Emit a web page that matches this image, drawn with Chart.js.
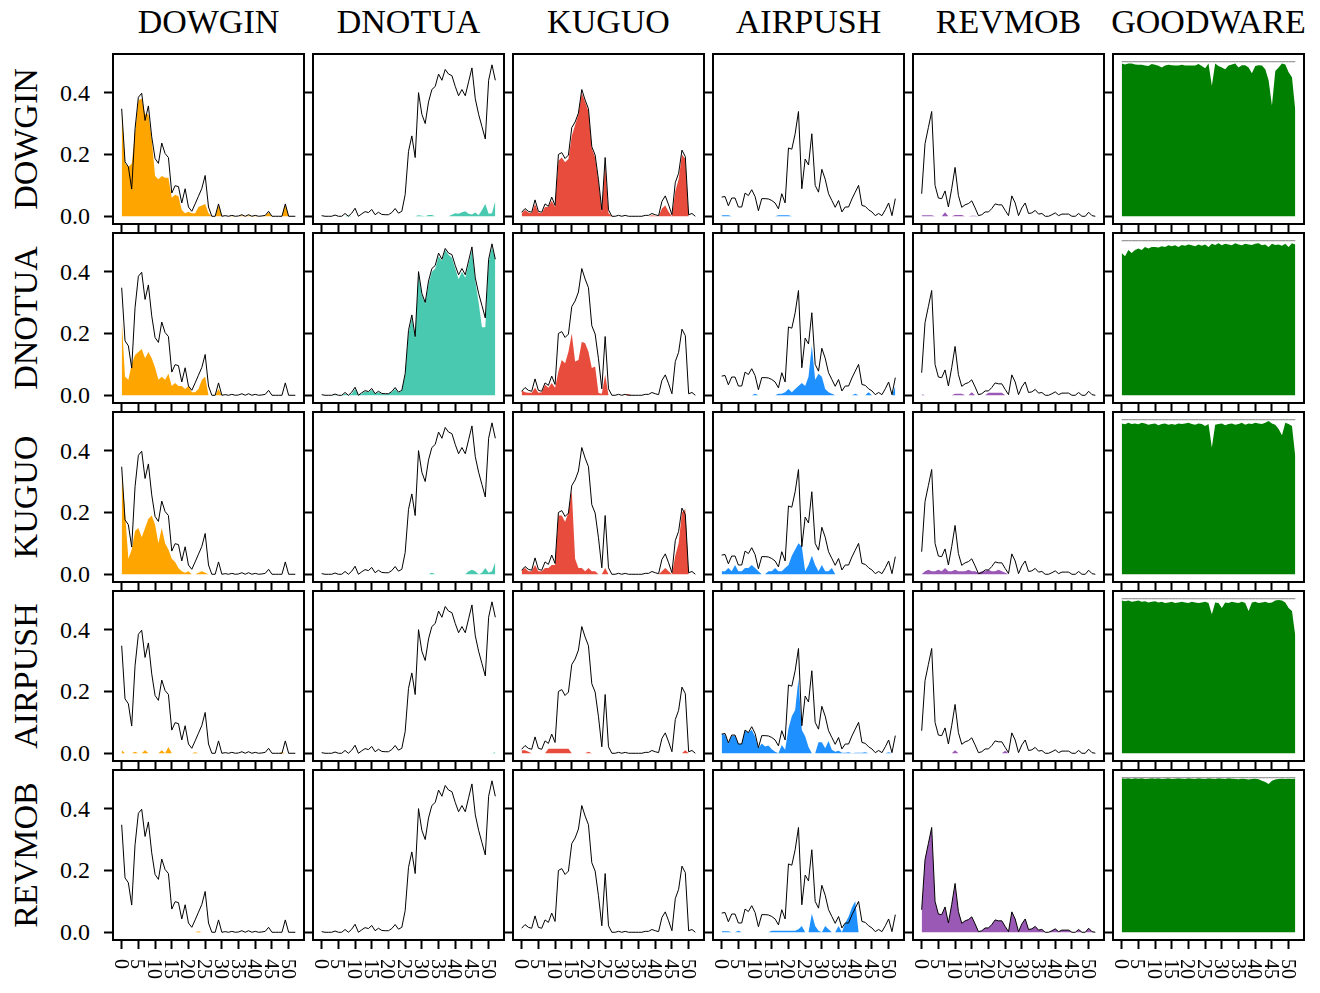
<!DOCTYPE html>
<html>
<head>
<meta charset="utf-8">
<script src="https://cdn.jsdelivr.net/npm/chart.js@4.4.0/dist/chart.umd.min.js"></script>
<style>
  body { margin: 0; background: #fff; }
  #fig { position: relative; width: 1320px; height: 993px; overflow: hidden;
         font-family: "Liberation Serif", "DejaVu Serif", serif; color: #000; }
  .cell { position: absolute; }
  .cell canvas { display: block; }
  .title { position: absolute; top: 5px; width: 220px; text-align: center; font-size: 34px; line-height: 34px; white-space: nowrap; }
  .rowlab { position: absolute; width: 220px; text-align: center; font-size: 34px; line-height: 34px;
            white-space: nowrap; transform: translate(-50%, -50%) rotate(-90deg); }
  .ytl { position: absolute; width: 60px; text-align: right; font-size: 24px; line-height: 24px; transform: translateY(-50%); }
  .xtl { position: absolute; top: 959px; writing-mode: vertical-rl; font-size: 20px; line-height: 20px; transform: translateX(-50%); }
</style>
</head>
<body>
<div id="fig"></div>
<script>
/* ---- categories / axes ---- */
const COLUMNS = ["DOWGIN", "DNOTUA", "KUGUO", "AIRPUSH", "REVMOB", "GOODWARE"];
const ROWS = ["DOWGIN", "DNOTUA", "KUGUO", "AIRPUSH", "REVMOB"];
const X = [0,1,2,3,4,5,6,7,8,9,10,11,12,13,14,15,16,17,18,19,20,21,22,23,24,25,26,27,28,29,
           30,31,32,33,34,35,36,37,38,39,40,41,42,43,44,45,46,47,48,49,50,51,52];
const X_TICKS = [0, 5, 10, 15, 20, 25, 30, 35, 40, 45, 50];
const Y_TICKS = [0, 0.2, 0.4];
const Y_TICK_LABELS = ["0.0", "0.2", "0.4"];

/* ---- reference profiles (black lines, one per column) ---- */
const REF_DOWGIN = [0.348,0.176,0.160,0.088,0.283,0.385,0.398,0.310,0.357,0.257,
  0.187,0.171,0.237,0.203,0.190,0.075,0.099,0.096,0.043,0.089,
  0.030,0.016,0.040,0.065,0.090,0.132,0.030,0,0,0.040,
  0,0.002,0,0.003,0,0.001,0.005,0,0.005,0,
  0.003,0,0.001,0.003,0.016,0,0,0,0,0.040,
  0,0,0];
const REF_DNOTUA = [0.002,0,0,0,0.004,0,0,0.009,0,0.010,
  0.026,0,0.008,0.015,0.012,0.022,0.005,0.013,0.006,0.005,
  0.005,0.012,0.025,0.010,0.016,0.070,0.210,0.260,0.190,0.400,
  0.330,0.300,0.370,0.410,0.420,0.460,0.440,0.475,0.460,0.455,
  0.420,0.390,0.410,0.390,0.435,0.480,0.380,0.330,0.290,0.250,
  0.440,0.490,0.440];
const REF_KUGUO = [0.013,0.025,0.016,0.013,0.053,0.016,0.013,0.040,0.032,0.062,
  0.035,0.200,0.206,0.187,0.198,0.287,0.305,0.334,0.410,0.376,
  0.348,0.225,0.198,0.118,0.021,0.190,0.021,0,0,0.003,
  0,0.003,0,0,0,0,0,0.003,0.003,0.009,
  0.005,0.002,0.048,0.066,0.037,0.005,0.109,0.139,0.214,0.193,
  0.005,0.009,0];
const REF_AIRPUSH = [0.062,0.064,0.034,0.059,0.059,0.030,0.030,0.075,0.067,0.086,
  0.064,0.018,0.057,0.057,0.056,0.051,0.043,0.024,0.073,0.043,
  0.221,0.217,0.267,0.339,0.089,0.185,0.166,0.267,0.100,0.078,
  0.152,0.120,0.073,0.051,0.029,0.051,0.014,0.030,0.030,0.056,
  0.078,0.100,0.035,0.032,0.021,0.014,0.002,0.009,0.002,0.021,
  0.043,0.002,0.057];
const REF_REVMOB = [0.073,0.235,0.287,0.339,0.100,0.059,0.057,0.082,0.030,0.090,
  0.158,0.067,0.029,0.037,0.041,0.050,0.027,0.002,0.005,0.014,
  0.014,0.025,0.040,0.037,0.037,0.019,0.002,0.066,0.043,0.002,
  0.027,0.043,0.009,0.011,0.019,0.007,0.009,0,0,0.005,
  0.011,0.002,0.007,0.007,0.007,0,0,0.009,0,0,
  0.013,0.002,0];
const REF_GOODWARE = [0.5,0.5,0.5,0.5,0.5,0.5,0.5,0.5,0.5,0.5,
  0.5,0.5,0.5,0.5,0.5,0.5,0.5,0.5,0.5,0.5,
  0.5,0.5,0.5,0.5,0.5,0.5,0.5,0.5,0.5,0.5,
  0.5,0.5,0.5,0.5,0.5,0.5,0.5,0.5,0.5,0.5,
  0.5,0.5,0.5,0.5,0.5,0.5,0.5,0.5,0.5,0.5,
  0.5,0.5,0.5];

/* ---- filled series: row family scored against column family ---- */
// row DOWGIN
const DOWGIN_DOWGIN = [0.348,0.170,0.160,0.170,0.270,0.375,0.380,0.330,0.330,0.250,
  0.130,0.120,0.130,0.125,0.125,0.060,0.070,0.065,0.020,0.010,
  0.015,0.010,0.010,0.030,0.035,0.040,0.010,0,0,0.035,
  0,0,0,0.002,0,0,0.003,0,0.003,0,
  0.002,0,0,0.002,0.012,0,0,0,0,0.040,
  0,0,0];
const DOWGIN_DNOTUA = [0,0,0,0,0,0,0,0,0.003,0,
  0,0,0,0,0,0,0,0,0,0,
  0,0,0,0,0,0,0,0,0,0.003,
  0.002,0,0.004,0.004,0,0,0,0,0,0.005,
  0.010,0.008,0.013,0.016,0.008,0.006,0.012,0.003,0.020,0.040,
  0.008,0.010,0.050];
const DOWGIN_KUGUO = [0.010,0.020,0.012,0.010,0.040,0.012,0.010,0.030,0.030,0.050,
  0.030,0.180,0.190,0.175,0.185,0.260,0.295,0.330,0.400,0.370,
  0.340,0.220,0.190,0.110,0.015,0.170,0.010,0,0,0,
  0,0,0,0,0,0,0,0,0,0.003,
  0.002,0,0.025,0.035,0.015,0,0.080,0.120,0.200,0.185,
  0,0,0];
const DOWGIN_AIRPUSH = [0.003,0.003,0.003,0,0,0,0,0,0,0,
  0,0,0,0,0,0,0,0.003,0.003,0.003,
  0.003,0,0,0,0,0,0,0,0,0,
  0,0,0,0,0,0,0,0,0,0,
  0,0,0,0,0,0,0,0,0,0,
  0,0,0];
const DOWGIN_REVMOB = [0.003,0.003,0.003,0.003,0,0,0,0.013,0,0,
  0.004,0.004,0.004,0,0,0.002,0.002,0,0,0,
  0,0,0,0,0,0,0,0,0,0,
  0,0,0,0,0,0,0,0,0,0,
  0,0,0,0,0,0,0,0,0,0,
  0,0,0];
const DOWGIN_GOODWARE = [0.494,0.491,0.494,0.494,0.491,0.490,0.490,0.488,0.486,0.493,
  0.490,0.487,0.481,0.488,0.490,0.489,0.488,0.488,0.490,0.488,
  0.488,0.488,0.488,0.493,0.486,0.479,0.494,0.422,0.494,0.486,
  0.481,0.476,0.488,0.491,0.494,0.481,0.489,0.489,0.481,0.463,
  0.486,0.489,0.488,0.476,0.440,0.358,0.470,0.481,0.494,0.491,
  0.466,0.450,0.342];
// row DNOTUA
const DNOTUA_DOWGIN = [0.250,0.060,0.050,0.100,0.130,0.140,0.150,0.120,0.140,0.120,
  0.090,0.050,0.060,0.050,0.070,0.030,0.040,0.030,0.030,0.020,
  0.030,0.010,0.010,0.020,0.050,0.060,0,0,0,0.020,
  0,0,0,0,0,0,0,0,0,0,
  0,0,0,0,0,0,0,0,0,0,
  0,0,0];
const DNOTUA_DNOTUA = [0,0,0,0,0.002,0,0,0.005,0,0.005,
  0.020,0,0.005,0.012,0.010,0.018,0.004,0.010,0.004,0.003,
  0.004,0.010,0.020,0.008,0.014,0.065,0.200,0.250,0.185,0.390,
  0.325,0.295,0.360,0.400,0.410,0.450,0.435,0.470,0.455,0.445,
  0.410,0.375,0.400,0.380,0.425,0.470,0.370,0.300,0.220,0.220,
  0.430,0.480,0.440];
const DNOTUA_KUGUO = [0.016,0.010,0.008,0.008,0.024,0.008,0.010,0.034,0.024,0.040,
  0.024,0.077,0.114,0.104,0.141,0.200,0.109,0.114,0.173,0.168,
  0.141,0.088,0.093,0.007,0.005,0.066,0,0,0,0,
  0,0,0.004,0,0,0,0,0,0,0,
  0,0,0,0,0,0,0,0,0,0,
  0,0,0];
const DNOTUA_AIRPUSH = [0,0,0,0,0,0,0,0,0,0,
  0.005,0,0,0,0,0,0,0.005,0.005,0.010,
  0.020,0.010,0.020,0.030,0.040,0.030,0.060,0.160,0.050,0.070,
  0.060,0.020,0.010,0.005,0,0,0,0,0,0,
  0.005,0,0,0,0.010,0,0,0,0,0,
  0,0,0.030];
const DNOTUA_REVMOB = [0.003,0,0,0,0,0,0,0,0,0,
  0.005,0.005,0.005,0,0,0.010,0,0,0,0,
  0.008,0.008,0.008,0.008,0.008,0,0,0,0,0,
  0,0,0,0,0,0,0,0,0,0,
  0,0,0,0,0,0,0,0,0,0,
  0,0,0];
const DNOTUA_GOODWARE = [0.460,0.450,0.470,0.460,0.470,0.475,0.470,0.480,0.475,0.480,
  0.480,0.478,0.482,0.480,0.485,0.482,0.485,0.480,0.486,0.484,
  0.488,0.485,0.482,0.488,0.484,0.488,0.480,0.490,0.486,0.492,
  0.485,0.490,0.488,0.485,0.492,0.488,0.485,0.490,0.488,0.486,
  0.490,0.492,0.485,0.488,0.480,0.490,0.486,0.488,0.484,0.490,
  0.480,0.492,0.488];
// row KUGUO
const KUGUO_DOWGIN = [0.330,0.200,0.050,0.080,0.140,0.150,0.120,0.150,0.180,0.190,
  0.160,0.100,0.150,0.100,0.080,0.050,0.040,0.020,0.010,0.005,
  0.010,0,0,0.005,0.010,0.005,0,0,0,0,
  0,0,0,0,0,0,0,0,0,0,
  0,0,0,0,0,0,0,0,0,0,
  0,0,0];
const KUGUO_DNOTUA = [0,0,0,0,0,0,0,0,0,0,
  0,0,0,0,0,0,0,0,0,0,
  0,0,0,0,0,0,0,0,0,0,
  0,0,0,0.005,0,0,0,0,0,0,
  0,0,0,0,0.010,0.015,0.010,0,0.005,0.020,
  0.005,0.010,0.040];
const KUGUO_KUGUO = [0.013,0.020,0.010,0.010,0.030,0.010,0.010,0.020,0.020,0.030,
  0.030,0.190,0.190,0.170,0.200,0.270,0.050,0.020,0.020,0.010,
  0.020,0.010,0.010,0,0,0.020,0,0,0,0,
  0,0,0,0,0,0,0,0,0,0,
  0,0,0.010,0.020,0.010,0,0.060,0.100,0.200,0.210,
  0,0,0];
const KUGUO_AIRPUSH = [0.010,0.010,0.020,0.010,0.030,0.010,0.010,0.020,0.020,0.030,
  0.020,0.010,0,0,0.010,0.010,0.020,0.010,0.010,0.020,
  0.030,0.060,0.080,0.100,0.090,0.010,0.030,0.060,0.030,0.010,
  0.030,0.010,0.010,0.020,0,0,0,0,0,0,
  0,0,0,0,0,0,0,0,0,0,
  0,0,0];
const KUGUO_REVMOB = [0,0.010,0.015,0.010,0.010,0.015,0.010,0.020,0.010,0.010,
  0.015,0.010,0.010,0.010,0.015,0.010,0.010,0.005,0.010,0.010,
  0.015,0.010,0.010,0.015,0.010,0.005,0,0,0,0,
  0,0,0,0,0,0,0,0,0,0,
  0,0,0,0,0,0,0,0,0,0,
  0,0,0];
const KUGUO_GOODWARE = [0.488,0.485,0.490,0.486,0.488,0.485,0.490,0.488,0.484,0.486,
  0.488,0.482,0.486,0.488,0.484,0.486,0.484,0.488,0.486,0.488,
  0.490,0.486,0.484,0.488,0.486,0.480,0.486,0.410,0.484,0.486,
  0.488,0.482,0.486,0.488,0.484,0.486,0.490,0.484,0.488,0.486,
  0.490,0.488,0.486,0.490,0.496,0.488,0.484,0.470,0.450,0.490,
  0.486,0.480,0.380];
// row AIRPUSH
const AIRPUSH_DOWGIN = [0.010,0,0,0,0.005,0,0,0.010,0,0,
  0,0,0.010,0,0.020,0,0,0,0,0,
  0,0,0.003,0,0,0,0,0,0,0,
  0,0,0,0,0,0,0,0,0,0,
  0,0,0,0,0,0,0,0,0.003,0,
  0,0,0];
const AIRPUSH_DNOTUA = [0,0,0,0,0,0,0,0,0,0,
  0,0,0,0,0,0,0,0,0,0,
  0,0,0,0,0,0,0,0,0,0,
  0,0,0,0,0,0,0,0,0,0,
  0,0,0,0,0,0,0,0,0,0,
  0,0,0.003];
const AIRPUSH_KUGUO = [0.010,0.010,0.005,0,0,0,0,0,0.015,0.015,
  0.015,0.015,0.015,0.015,0.015,0,0,0,0,0,
  0.005,0,0,0,0,0,0,0,0,0,
  0,0,0,0,0,0,0,0,0,0,
  0,0,0,0,0,0,0,0,0,0.010,
  0,0,0];
const AIRPUSH_AIRPUSH = [0.063,0.060,0.032,0.057,0.057,0.030,0.030,0.074,0.067,0.076,
  0.054,0.016,0.032,0.022,0.025,0.013,0.005,0,0.027,0.011,
  0.080,0.120,0.140,0.240,0.075,0.055,0.020,0,0,0.036,
  0.036,0.016,0.040,0.011,0.005,0.008,0.002,0.002,0.003,0,
  0.002,0.002,0.002,0.003,0,0,0,0,0,0,
  0.003,0,0];
const AIRPUSH_REVMOB = [0,0,0,0,0,0,0,0,0,0,
  0.010,0,0,0,0,0,0,0,0,0,
  0,0,0,0,0,0.008,0,0,0,0,
  0,0,0,0,0,0,0,0,0,0,
  0,0,0,0,0,0,0,0,0,0,
  0,0,0];
const AIRPUSH_GOODWARE = [0.494,0.492,0.494,0.490,0.492,0.494,0.490,0.492,0.488,0.490,
  0.492,0.488,0.490,0.486,0.488,0.490,0.486,0.488,0.490,0.488,
  0.486,0.490,0.488,0.486,0.488,0.490,0.486,0.450,0.488,0.486,
  0.470,0.488,0.486,0.490,0.488,0.486,0.490,0.486,0.460,0.488,
  0.490,0.486,0.488,0.490,0.486,0.488,0.494,0.496,0.494,0.488,
  0.470,0.460,0.380];
// row REVMOB
const REVMOB_DOWGIN = [0,0,0,0,0,0,0,0,0,0,
  0,0,0,0,0,0,0,0,0,0,
  0,0,0,0.003,0,0,0,0,0,0,
  0,0,0,0,0,0,0,0,0,0,
  0,0,0,0,0,0,0,0,0,0,
  0,0,0];
const REVMOB_DNOTUA = [0,0,0,0,0,0,0,0,0,0,
  0,0,0,0,0,0,0,0,0,0,
  0,0,0,0,0,0,0,0,0,0,
  0,0,0,0,0,0,0,0,0,0,
  0,0,0,0,0,0,0,0,0,0,
  0,0,0];
const REVMOB_KUGUO = [0,0,0,0,0,0,0,0,0,0,
  0,0,0,0,0,0,0,0,0,0,
  0,0,0,0,0,0,0,0,0,0,
  0,0,0,0,0,0,0,0,0,0,
  0,0,0,0,0,0,0,0,0,0,
  0,0,0];
const REVMOB_AIRPUSH = [0.003,0.003,0.003,0,0,0.005,0,0,0,0,
  0,0,0,0,0,0.005,0.005,0.005,0.005,0.005,
  0.005,0.005,0.005,0.010,0.020,0,0,0.060,0.020,0.005,
  0,0.020,0.010,0,0,0.020,0,0.030,0.050,0.080,
  0.100,0,0,0,0,0,0,0,0,0,
  0,0,0];
const REVMOB_REVMOB = [0.073,0.235,0.287,0.339,0.100,0.059,0.057,0.082,0.030,0.090,
  0.158,0.067,0.029,0.037,0.041,0.050,0.027,0.002,0.005,0.014,
  0.014,0.025,0.040,0.037,0.037,0.019,0.002,0.066,0.043,0.002,
  0.027,0.043,0.009,0.011,0.019,0.007,0.009,0,0,0.005,
  0.011,0.002,0.007,0.007,0.007,0,0,0.009,0,0,
  0.013,0.002,0];
const REVMOB_GOODWARE = [0.498,0.497,0.498,0.496,0.498,0.497,0.498,0.496,0.497,0.498,
  0.497,0.498,0.496,0.497,0.498,0.496,0.497,0.498,0.497,0.496,
  0.498,0.497,0.496,0.498,0.497,0.496,0.498,0.497,0.496,0.498,
  0.497,0.496,0.498,0.497,0.496,0.495,0.497,0.496,0.494,0.496,
  0.497,0.495,0.490,0.486,0.480,0.490,0.494,0.496,0.497,0.496,
  0.497,0.496,0.497];

const REFS = [REF_DOWGIN, REF_DNOTUA, REF_KUGUO, REF_AIRPUSH, REF_REVMOB, REF_GOODWARE];
const FILLS = [
  [DOWGIN_DOWGIN, DOWGIN_DNOTUA, DOWGIN_KUGUO, DOWGIN_AIRPUSH, DOWGIN_REVMOB, DOWGIN_GOODWARE],
  [DNOTUA_DOWGIN, DNOTUA_DNOTUA, DNOTUA_KUGUO, DNOTUA_AIRPUSH, DNOTUA_REVMOB, DNOTUA_GOODWARE],
  [KUGUO_DOWGIN, KUGUO_DNOTUA, KUGUO_KUGUO, KUGUO_AIRPUSH, KUGUO_REVMOB, KUGUO_GOODWARE],
  [AIRPUSH_DOWGIN, AIRPUSH_DNOTUA, AIRPUSH_KUGUO, AIRPUSH_AIRPUSH, AIRPUSH_REVMOB, AIRPUSH_GOODWARE],
  [REVMOB_DOWGIN, REVMOB_DNOTUA, REVMOB_KUGUO, REVMOB_AIRPUSH, REVMOB_REVMOB, REVMOB_GOODWARE],
];
const FILL_COLORS = ["#FFA500", "#48C9B0", "#E74C3C", "#1E90FF", "#9B59B6", "#008000"];
const LINE_COLORS = ["#000", "#000", "#000", "#000", "#000", "#808080"];

/* ---- layout (px) ---- */
const PX0 = 113, PY0 = 54, PW = 191, PH = 170, DXC = 200, DYR = 179;
const PADL = 14, PADB = 14, PADT = 2, PADR = 2, TL = 9;
const XMIN = -2.6, XMAX = 54.6, YMIN = -0.025, YMAX = 0.525;

const fig = document.getElementById("fig");

const frame = {
  id: "frame",
  afterDraw(chart) {
    const a = chart.chartArea, c = chart.ctx;
    c.save(); c.strokeStyle = "#000"; c.lineWidth = 2;
    c.strokeRect(a.left, a.top, a.right - a.left, a.bottom - a.top);
    c.restore();
  }
};

const pts = arr => X.map((x, i) => ({ x, y: arr[i] }));
const tickAxis = (min, max, ticks) => ({
  type: "linear", min, max,
  afterBuildTicks: s => { s.ticks = ticks.map(v => ({ value: v })); },
  ticks: { display: false },
  grid: { drawOnChartArea: false, drawTicks: true, tickLength: TL, tickWidth: 2, tickColor: "#000" },
  border: { display: false },
});

ROWS.forEach((rowName, r) => {
  COLUMNS.forEach((colName, c) => {
    const wrap = document.createElement("div");
    wrap.className = "cell";
    const w = PW + PADL + PADR, h = PH + PADT + PADB;
    wrap.style.left = (PX0 + c * DXC - PADL) + "px";
    wrap.style.top = (PY0 + r * DYR - PADT) + "px";
    wrap.style.width = w + "px"; wrap.style.height = h + "px";
    const cv = document.createElement("canvas");
    cv.width = w; cv.height = h;
    wrap.appendChild(cv); fig.appendChild(wrap);
    new Chart(cv, {
      type: "line",
      data: { datasets: [
        { data: pts(REFS[c]), borderColor: LINE_COLORS[c], borderWidth: 1, pointRadius: 0, fill: false, tension: 0, order: 0 },
        { data: pts(FILLS[r][c]), borderWidth: 0, borderColor: "rgba(0,0,0,0)", backgroundColor: FILL_COLORS[c],
          pointRadius: 0, fill: "origin", tension: 0, order: 1 },
      ] },
      options: {
        responsive: false, animation: false, events: [],
        layout: { padding: { left: PADL - TL, bottom: PADB - TL, top: PADT, right: PADR } },
        plugins: { legend: { display: false }, tooltip: { enabled: false } },
        scales: { x: tickAxis(XMIN, XMAX, X_TICKS), y: tickAxis(YMIN, YMAX, Y_TICKS) },
      },
      plugins: [frame],
    });
  });
});

/* ---- text ---- */
const xPix = v => PX0 + (v - XMIN) / (XMAX - XMIN) * PW;
const yPix = (r, v) => PY0 + r * DYR + (YMAX - v) / (YMAX - YMIN) * PH;

COLUMNS.forEach((name, c) => {
  const d = document.createElement("div");
  d.className = "title"; d.textContent = name;
  d.style.left = (PX0 + c * DXC + PW / 2 - 110) + "px";
  fig.appendChild(d);
});
ROWS.forEach((name, r) => {
  const d = document.createElement("div");
  d.className = "rowlab"; d.textContent = name;
  d.style.left = "25.5px"; d.style.top = (PY0 + r * DYR + PH / 2) + "px";
  fig.appendChild(d);
  Y_TICKS.forEach((v, k) => {
    const t = document.createElement("div");
    t.className = "ytl"; t.textContent = Y_TICK_LABELS[k];
    t.style.left = "30px"; t.style.top = yPix(r, v) + "px";
    fig.appendChild(t);
  });
});
COLUMNS.forEach((name, c) => {
  X_TICKS.forEach(v => {
    const t = document.createElement("div");
    t.className = "xtl"; t.textContent = String(v);
    t.style.left = (xPix(v) + c * DXC) + "px";
    fig.appendChild(t);
  });
});
</script>
</body>
</html>
